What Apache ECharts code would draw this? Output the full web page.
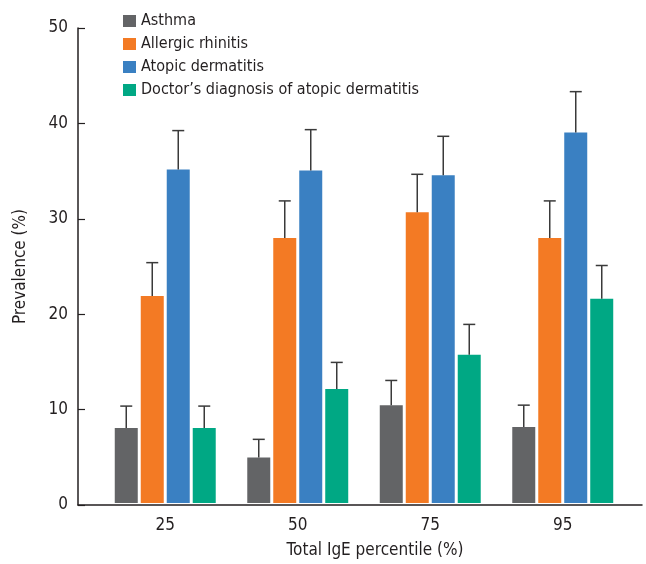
<!DOCTYPE html>
<html>
<head>
<meta charset="utf-8">
<script src="https://cdn.jsdelivr.net/npm/echarts@6/dist/echarts.min.js"></script>
<style>
  html, body { margin: 0; padding: 0; background: #fff; }
  #container { width: 646px; height: 564px; }
</style>
</head>
<body>
<div id="container"></div>
<script>
var dom = document.getElementById("container");
var myChart = echarts.init(dom);

// x categories
var categories = ['25', '50', '75', '95'];
var seriesNames = ['Asthma', 'Allergic rhinitis', 'Atopic dermatitis', "Doctor\u2019s diagnosis of atopic dermatitis"];

// prevalence (%)
var asthma = [7.9, 4.8, 10.3, 8.0];
var rhinitis = [21.8, 27.9, 30.6, 27.9];
var dermatitis = [35.1, 35.0, 34.5, 39.0];
var doctorDx = [7.9, 12.0, 15.6, 21.5];

// upper end of error bar
var asthmaUp = [10.2, 6.7, 12.9, 10.3];
var rhinitisUp = [25.3, 31.8, 34.6, 31.8];
var dermatitisUp = [39.2, 39.3, 38.6, 43.3];
var doctorDxUp = [10.2, 14.8, 18.8, 25.0];

var yTicks = [0, 10, 20, 30, 40, 50];

var colors = ['#636466', '#f37a24', '#3a80c2', '#00a884'];
var FONT = '"Liberation Sans Narrow", "DejaVu Sans Condensed", sans-serif';

var means = [asthma, rhinitis, dermatitis, doctorDx];
var uppers = [asthmaUp, rhinitisUp, dermatitisUp, doctorDxUp];
var offsets = [-39, -13, 13, 39]; // bar centre offset in group (px)

function errData(k) {
    var out = [];
    for (var i = 0; i < categories.length; i++) {
        out.push([i, means[k][i], uppers[k][i]]);
    }
    return out;
}

function errSeries(k) {
    return {
        type: 'custom',
        name: seriesNames[k] + ' err',
        xAxisIndex: 0,
        yAxisIndex: 0,
        z: 5,
        silent: true,
        data: errData(k),
        renderItem: function (params, api) {
            var lo = api.coord([api.value(0), api.value(1)]);
            var hi = api.coord([api.value(0), api.value(2)]);
            var x = lo[0] + offsets[k];
            var st = { stroke: '#3a3a3a', lineWidth: 1.5 };
            return {
                type: 'group',
                children: [
                    { type: 'line', shape: { x1: x, y1: lo[1], x2: x, y2: hi[1] }, style: st },
                    { type: 'line', shape: { x1: x - 6, y1: hi[1], x2: x + 6, y2: hi[1] }, style: st }
                ]
            };
        }
    };
}

var series = [];
for (var k = 0; k < 4; k++) {
    series.push({
        name: seriesNames[k],
        type: 'bar',
        xAxisIndex: 0,
        yAxisIndex: 0,
        barWidth: 23,
        barGap: '13%',
        itemStyle: { color: colors[k] },
        data: means[k]
    });
}
for (var k = 0; k < 4; k++) {
    series.push(errSeries(k));
}

var option = {
    backgroundColor: '#fff',
    animation: false,
    textStyle: { fontFamily: FONT },
    legend: {
        data: seriesNames,
        orient: 'vertical',
        left: 123,
        top: 13,
        padding: 0,
        itemWidth: 13,
        itemHeight: 12,
        itemGap: 7,
        icon: 'rect',
        textStyle: { fontFamily: FONT, fontSize: 16, color: '#231f20', lineHeight: 16 }
    },
    grid: [
        { left: 99, right: 17, top: 28, bottom: 59 },   // bars
        { left: 78, right: 4, top: 28, bottom: 59 }     // axis frame
    ],
    xAxis: [
        {
            type: 'category',
            gridIndex: 0,
            data: categories,
            axisLine: { show: false },
            axisTick: { show: false },
            axisLabel: { fontFamily: FONT, fontSize: 17, color: '#231f20', margin: 14 },
            name: 'Total IgE percentile (%)',
            nameLocation: 'middle',
            nameGap: 39,
            nameTextStyle: { fontFamily: FONT, fontSize: 17, color: '#231f20', padding: [0, 0, 0, 22] }
        },
        {
            type: 'value',
            gridIndex: 1,
            min: 0,
            max: 1,
            axisLine: { show: true, lineStyle: { color: '#231f20', width: 1.5 } },
            axisTick: { show: false },
            axisLabel: { show: false },
            splitLine: { show: false }
        }
    ],
    yAxis: [
        {
            type: 'value',
            gridIndex: 0,
            min: 0,
            max: 50,
            interval: 10,
            show: false
        },
        {
            type: 'value',
            gridIndex: 1,
            min: yTicks[0],
            max: yTicks[yTicks.length - 1],
            interval: 10,
            axisLine: { show: true, lineStyle: { color: '#231f20', width: 1.5 } },
            axisTick: { show: true, inside: true, length: 7, lineStyle: { color: '#231f20', width: 1.2 } },
            axisLabel: { fontFamily: FONT, fontSize: 17, color: '#231f20', margin: 10 },
            splitLine: { show: false },
            name: 'Prevalence (%)',
            nameLocation: 'middle',
            nameGap: 49,
            nameTextStyle: { fontFamily: FONT, fontSize: 17, color: '#231f20' }
        }
    ],
    series: series
};

myChart.setOption(option, true);
</script>
</body>
</html>
